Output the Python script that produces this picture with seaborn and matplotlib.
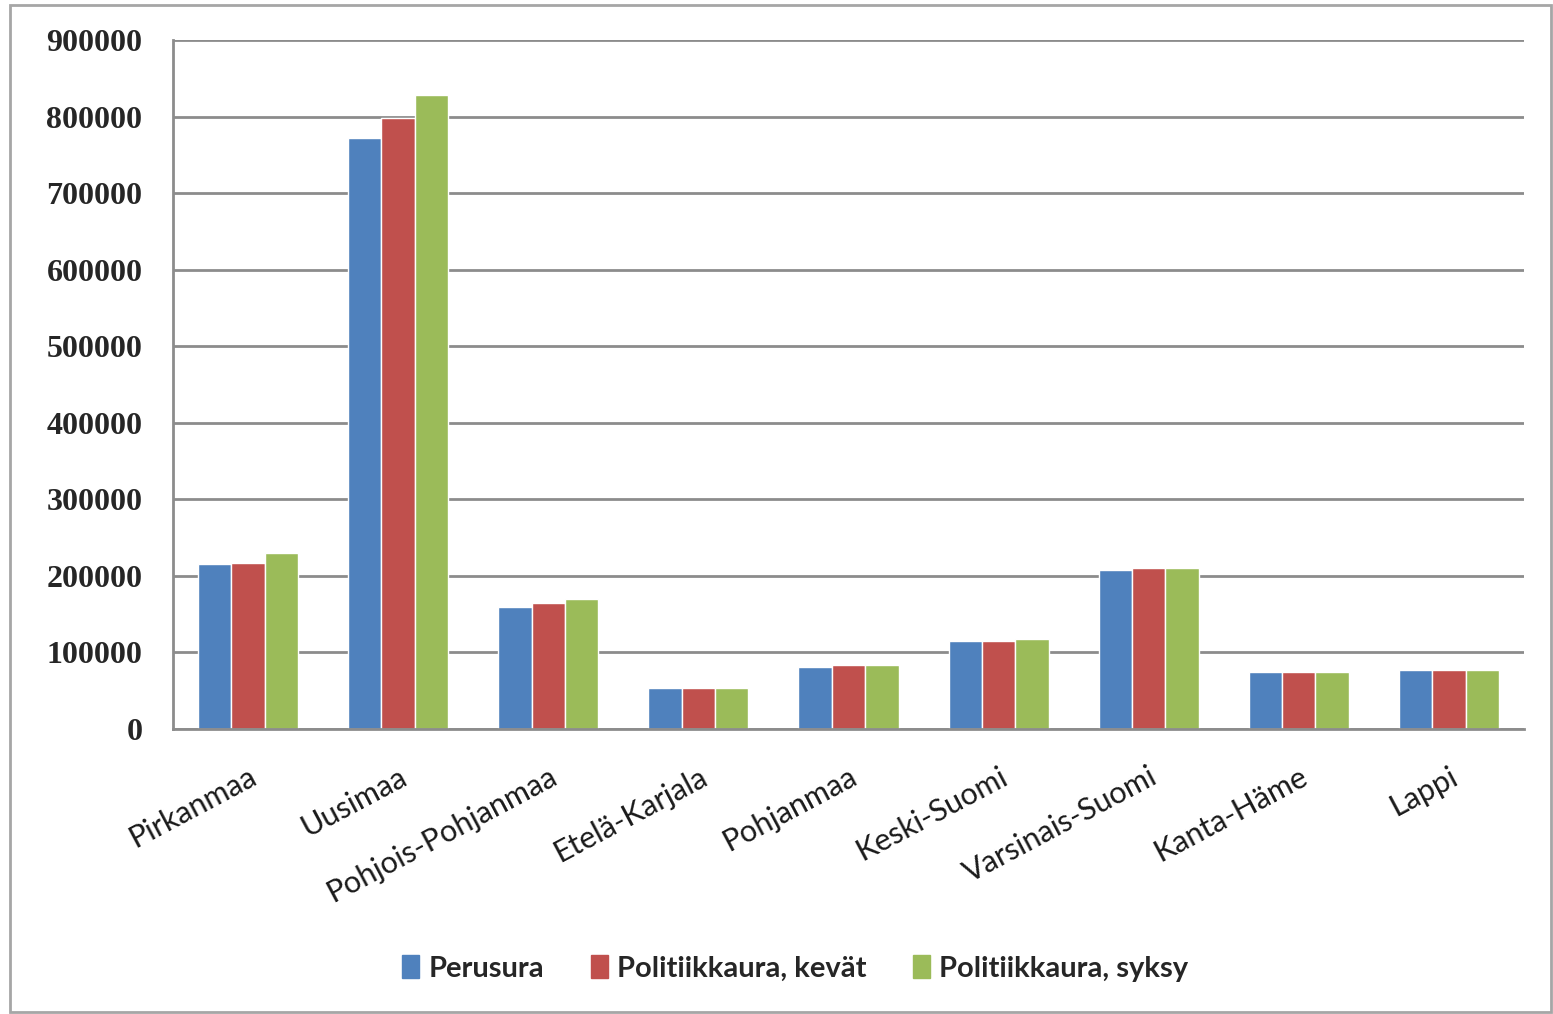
import pandas as pd
import matplotlib.pyplot as plt
import matplotlib.patches as mpatches
import seaborn as sns

# data
regions = ['Pirkanmaa', 'Uusimaa', 'Pohjois-Pohjanmaa', 'Etelä-Karjala', 'Pohjanmaa',
           'Keski-Suomi', 'Varsinais-Suomi', 'Kanta-Häme', 'Lappi']
perusura = [215000, 772000, 160000, 54000, 81500, 114500, 207500, 74000, 76500]
kevat = [217500, 798000, 165000, 54000, 84000, 114500, 210000, 74000, 76500]
syksy = [230000, 828000, 170000, 54000, 84000, 117000, 210000, 74000, 76500]
series = ['Perusura', 'Politiikkaura, kevät', 'Politiikkaura, syksy']
colors = ['#4F81BD', '#C0504D', '#9BBB59']

df = pd.DataFrame({'region': regions * 3,
                   'value': perusura + kevat + syksy,
                   'series': [s for s in series for _ in regions]})

sns.set_style('white')
fig = plt.figure(figsize=(15.53, 10.14), dpi=100)
ax = fig.add_axes([0.1114, 0.281, 0.8699, 0.6796])

sns.barplot(data=df, x='region', y='value', hue='series', palette=colors,
            width=0.667, saturation=1, ax=ax, legend=False)

grid_col = '#8c8c8c'
ax.set_ylim(0, 900000)
ax.set_xlim(-0.5, len(regions) - 0.5)
ax.set_yticks(range(0, 900001, 100000))
ax.yaxis.grid(True, color=grid_col, linewidth=2)
ax.set_axisbelow(True)
for s in ['top', 'right']:
    ax.spines[s].set_visible(False)
for s in ['left', 'bottom']:
    ax.spines[s].set_color(grid_col)
    ax.spines[s].set_linewidth(2)
ax.set_xlabel('')
ax.set_ylabel('')

# y labels
ax.tick_params(axis='y', length=10, width=2, color=grid_col, pad=12)
for lab in ax.get_yticklabels():
    lab.set_family('Liberation Serif')
    lab.set_fontweight('bold')
    lab.set_fontsize(23)
    lab.set_color('#262626')

# x ticks between the groups, labels at the centres
ax.set_xticks([i - 0.5 for i in range(len(regions) + 1)], minor=True)
ax.tick_params(axis='x', which='minor', length=10, width=2, color=grid_col)
ax.tick_params(axis='x', which='major', length=0, pad=24)
ax.set_xticks(range(len(regions)))
ax.set_xticklabels(regions, rotation=28, ha='right', rotation_mode='anchor',
                   family='Lato', fontsize=22, color='#1a1a1a')

# legend at the bottom
handles = [mpatches.Patch(color=c, label=s) for c, s in zip(colors, series)]
fig.legend(handles=handles, loc='center', bbox_to_anchor=(0.512, 0.045), ncol=3,
           frameon=False, handlelength=0.6, handleheight=0.8, handletextpad=0.3,
           columnspacing=1.6, prop={'family': 'Lato', 'weight': 'bold', 'size': 21})

# outer chart frame
fig.patches.append(mpatches.Rectangle((10 / 1553, 2 / 1014), 1541 / 1553, 1007 / 1014,
                                      transform=fig.transFigure, fill=False,
                                      edgecolor='#a6a6a6', linewidth=2))

plt.savefig('out.png', dpi=100)
plt.close()
